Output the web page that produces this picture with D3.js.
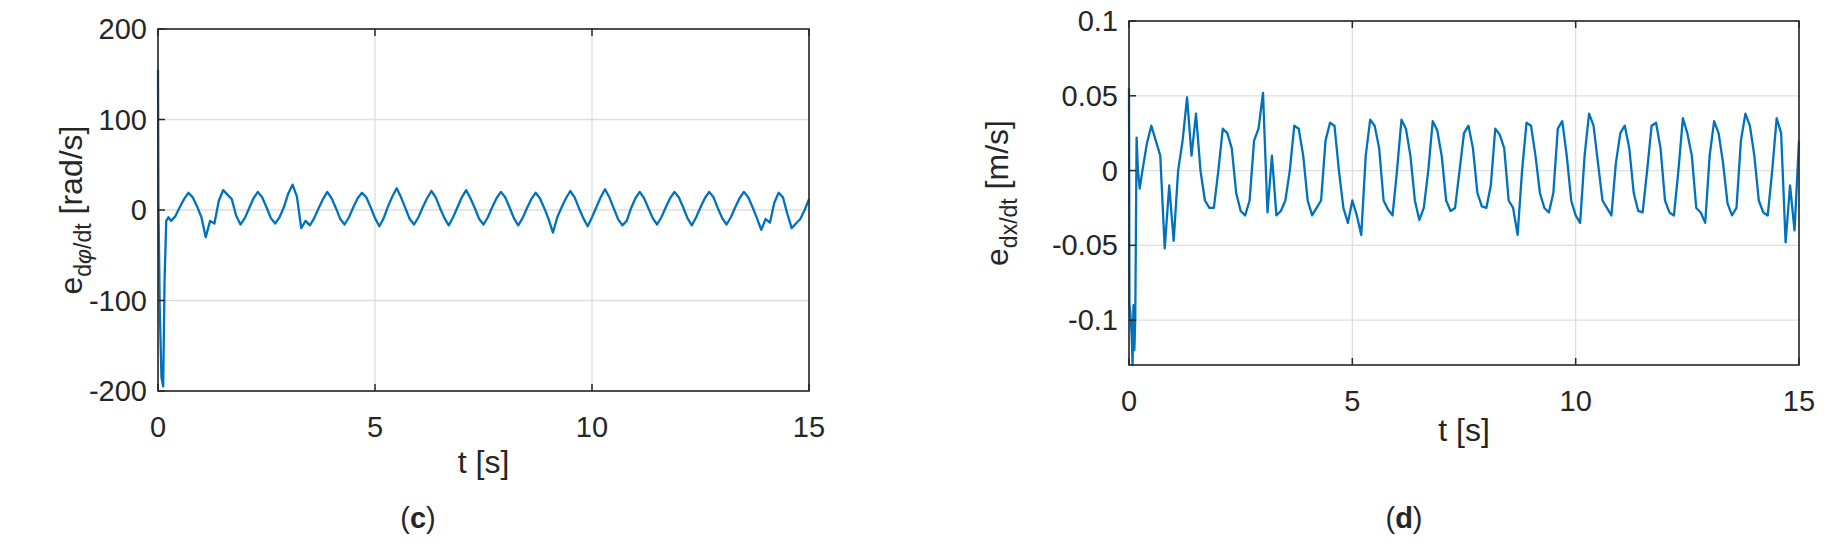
<!DOCTYPE html>
<html>
<head>
<meta charset="utf-8">
<script src="https://cdn.jsdelivr.net/npm/d3@7"></script>
<style>
  body { margin: 0; background: #fff; }
  text { font-family: "Liberation Sans", Arial, sans-serif; fill: #262626; }
</style>
</head>
<body>
<svg id="chart" width="1830" height="553"></svg>
<script>
// time samples for the early transient, then regular 0.1 s samples from 0.3 s
const phiStartT = [0, 0.01, 0.04, 0.08, 0.12, 0.15, 0.19, 0.24];
const phiStartV = [155, 10, -110, -185, -195, -80, -12, -8];
const phiValues = [
    -12, -7, 3, 12, 19, 14, 4, -8,
    -30, -12, -15, 10, 22, 17, 12, -6,
    -16, -9, 2, 13, 20, 14, 3, -9,
    -15, -8, 3, 18, 28, 15, -20, -12,
    -17, -9, 2, 12, 20, 13, 2, -10,
    -16, -8, 3, 13, 19, 14, 3, -9,
    -18, -9, 4, 15, 24, 14, 2, -10,
    -16, -8, 3, 13, 21, 14, 2, -9,
    -17, -8, 3, 14, 22, 13, 2, -10,
    -16, -8, 3, 13, 20, 14, 3, -9,
    -17, -9, 2, 12, 19, 13, 2, -10,
    -25, -8, 3, 13, 21, 14, 2, -9,
    -18, -8, 3, 14, 23, 14, 2, -10,
    -17, -12, 2, 13, 20, 13, 2, -9,
    -16, -8, 3, 13, 20, 14, 3, -9,
    -17, -8, 3, 13, 20, 14, 2, -9,
    -16, -8, 3, 13, 20, 14, 3, -9,
    -22, -10, -14, 8, 19, 14, -4, -20,
    -15, -10, 0, 12
];

const xStartT = [0, 0.01, 0.03, 0.06, 0.08, 0.1, 0.12, 0.14, 0.17, 0.2, 0.24];
const xStartV = [0.055, -0.09, -0.095, -0.11, -0.13, -0.09, -0.12, -0.1, 0.022, 0.0, -0.012];
const xValues = [
    0.0, 0.018, 0.03, 0.02, 0.01, -0.052, -0.01, -0.047,
    0.0, 0.02, 0.049, 0.01, 0.038, 0.0, -0.02, -0.025,
    -0.025, 0.0, 0.028, 0.025, 0.015, -0.015, -0.027, -0.03,
    -0.02, 0.02, 0.028, 0.052, -0.028, 0.01, -0.03, -0.027,
    -0.02, 0.0, 0.03, 0.028, 0.01, -0.02, -0.03, -0.025,
    -0.02, 0.02, 0.032, 0.03, 0.0, -0.025, -0.035, -0.02,
    -0.03, -0.043, 0.01, 0.034, 0.03, 0.015, -0.02, -0.026,
    -0.03, 0.0, 0.034, 0.028, 0.01, -0.02, -0.033, -0.025,
    0.0, 0.033, 0.027, 0.01, -0.02, -0.027, -0.025, 0.0,
    0.025, 0.03, 0.015, -0.015, -0.024, -0.025, -0.01, 0.028,
    0.024, 0.015, -0.02, -0.025, -0.043, 0.0, 0.032, 0.03,
    0.01, -0.015, -0.025, -0.028, -0.015, 0.028, 0.033, 0.01,
    -0.02, -0.03, -0.035, 0.01, 0.038, 0.03, 0.005, -0.02,
    -0.025, -0.03, 0.005, 0.025, 0.03, 0.015, -0.015, -0.027,
    -0.028, 0.0, 0.03, 0.032, 0.015, -0.02, -0.028, -0.03,
    0.0, 0.035, 0.025, 0.01, -0.025, -0.028, -0.035, 0.01,
    0.033, 0.025, 0.005, -0.022, -0.03, -0.025, 0.02, 0.038,
    0.03, 0.01, -0.02, -0.028, -0.03, 0.0, 0.035, 0.025,
    -0.048, -0.01, -0.04, 0.02
];

const xTicks = [0, 5, 10, 15];
const phiTicks = [-200, -100, 0, 100, 200];
const dxTicks = [-0.1, -0.05, 0, 0.05, 0.1];

const svg = d3.select('#chart');

function toPoints(startT, startV, values) {
    const pts = startT.map((t, i) => [t, startV[i]]);
    values.forEach((v, i) => pts.push([+(0.3 + i * 0.1).toFixed(2), v]));
    return pts;
}

function drawPanel(cfg) {
    const x = d3.scaleLinear().domain([0, 15]).range([cfg.left, cfg.right]);
    const y = d3.scaleLinear().domain(cfg.yDomain).range([cfg.bottom, cfg.top]);
    const g = svg.append('g');

    // grid
    g.selectAll('.gx').data(xTicks).join('line')
        .attr('x1', d => x(d)).attr('x2', d => x(d))
        .attr('y1', cfg.top).attr('y2', cfg.bottom)
        .attr('stroke', '#dedede').attr('stroke-width', 1.3);
    g.selectAll('.gy').data(cfg.yTicks).join('line')
        .attr('x1', cfg.left).attr('x2', cfg.right)
        .attr('y1', d => y(d)).attr('y2', d => y(d))
        .attr('stroke', '#dedede').attr('stroke-width', 1.3);

    // data line
    const line = d3.line().x(d => x(d[0])).y(d => y(d[1]));
    g.append('path')
        .datum(cfg.points)
        .attr('d', line)
        .attr('fill', 'none')
        .attr('stroke', '#0072BD')
        .attr('stroke-width', 2.3)
        .attr('stroke-linejoin', 'round');

    // box
    g.append('rect')
        .attr('x', cfg.left).attr('y', cfg.top)
        .attr('width', cfg.right - cfg.left).attr('height', cfg.bottom - cfg.top)
        .attr('fill', 'none').attr('stroke', '#262626').attr('stroke-width', 1.6);

    // inner ticks
    g.selectAll('.tx').data(xTicks).join('line')
        .attr('x1', d => x(d)).attr('x2', d => x(d))
        .attr('y1', cfg.top).attr('y2', cfg.top + 7)
        .attr('stroke', '#262626').attr('stroke-width', 1.5);
    g.selectAll('.tx2').data(xTicks).join('line')
        .attr('x1', d => x(d)).attr('x2', d => x(d))
        .attr('y1', cfg.bottom).attr('y2', cfg.bottom - 7)
        .attr('stroke', '#262626').attr('stroke-width', 1.5);
    g.selectAll('.ty').data(cfg.yTicks).join('line')
        .attr('x1', cfg.left).attr('x2', cfg.left + 7)
        .attr('y1', d => y(d)).attr('y2', d => y(d))
        .attr('stroke', '#262626').attr('stroke-width', 1.5);

    // tick labels
    g.selectAll('.lx').data(xTicks).join('text')
        .attr('x', d => x(d)).attr('y', cfg.bottom + 46)
        .attr('text-anchor', 'middle').attr('font-size', 29)
        .text(d => d);
    g.selectAll('.ly').data(cfg.yTicks).join('text')
        .attr('x', cfg.left - 11).attr('y', d => y(d) + 10)
        .attr('text-anchor', 'end').attr('font-size', 29)
        .text(d => d);

    // x label
    g.append('text')
        .attr('x', (cfg.left + cfg.right) / 2).attr('y', cfg.bottom + cfg.xLabelDy)
        .attr('text-anchor', 'middle').attr('font-size', 32)
        .text('t [s]');

    // y label
    const yl = g.append('text')
        .attr('transform', `translate(${cfg.labelX},${(cfg.top + cfg.bottom) / 2}) rotate(-90)`)
        .attr('text-anchor', 'middle').attr('font-size', 32);
    yl.append('tspan').text('e');
    cfg.sub.forEach((s, i) => {
        const t = yl.append('tspan').attr('font-size', 23).text(s.text);
        if (i === 0) t.attr('dy', 9);
        if (s.italic) t.attr('font-style', 'italic');
    });
    yl.append('tspan').attr('dy', -9).text(' [' + cfg.unit + ']');

    // caption
    svg.append('text')
        .attr('x', cfg.captionX).attr('y', 528)
        .attr('text-anchor', 'middle').attr('font-size', 29)
        .attr('font-family', '"Liberation Serif", serif')
        .html(`(<tspan font-weight="bold">${cfg.caption}</tspan>)`);
}

drawPanel({
    left: 158, right: 809, top: 29, bottom: 391,
    yDomain: [-200, 200], yTicks: phiTicks,
    points: toPoints(phiStartT, phiStartV, phiValues),
    labelX: 82, xLabelDy: 82,
    sub: [{ text: 'd' }, { text: 'φ', italic: true }, { text: '/dt' }],
    unit: 'rad/s',
    caption: 'c', captionX: 418
});

drawPanel({
    left: 1129, right: 1799, top: 21, bottom: 365,
    yDomain: [-0.13, 0.1], yTicks: dxTicks,
    points: toPoints(xStartT, xStartV, xValues),
    labelX: 1008, xLabelDy: 76,
    sub: [{ text: 'dx/dt' }],
    unit: 'm/s',
    caption: 'd', captionX: 1404
});
</script>
</body>
</html>
